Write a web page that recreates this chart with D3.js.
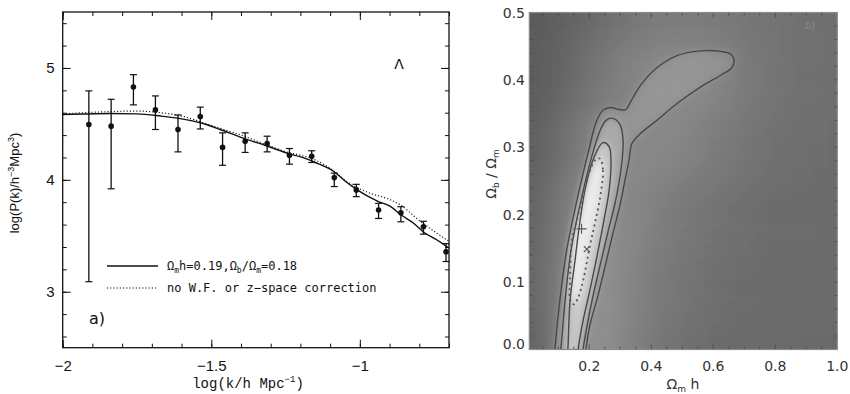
<!DOCTYPE html>
<html>
<head>
<meta charset="utf-8">
<script src="https://cdn.jsdelivr.net/npm/d3@7"></script>
<style>
  body { margin: 0; background: #fff; }
  svg { display: block; }
  .tick text { font-family: "Liberation Sans", Arial, sans-serif; }
</style>
</head>
<body>
<div id="chart"></div>
<script>
// ---- panel a: power spectrum ----
const logK = [-1.912, -1.837, -1.762, -1.688, -1.612, -1.537, -1.462, -1.386, -1.312,
              -1.237, -1.162, -1.086, -1.012, -0.937, -0.862, -0.786, -0.710];
const logP = [4.495, 4.48, 4.83, 4.625, 4.45, 4.566, 4.29, 4.345, 4.325,
              4.22, 4.21, 4.02, 3.91, 3.73, 3.705, 3.58, 3.357];
const errHi = [4.795, 4.72, 4.94, 4.75, 4.58, 4.65, 4.42, 4.42, 4.39,
               4.28, 4.26, 4.06, 3.96, 3.79, 3.76, 3.63, 3.43];
const errLo = [3.09, 3.92, 4.67, 4.45, 4.25, 4.455, 4.13, 4.245, 4.25,
               4.14, 4.155, 3.94, 3.85, 3.655, 3.625, 3.515, 3.27];

const modelSolid = [[-2.0, 4.584], [-1.84, 4.593], [-1.75, 4.59], [-1.67, 4.57], [-1.6, 4.545],
  [-1.537, 4.51], [-1.47, 4.45], [-1.40, 4.38], [-1.31, 4.30], [-1.234, 4.23], [-1.199, 4.205],
  [-1.15, 4.155], [-1.088, 4.075], [-1.05, 3.99], [-1.009, 3.91], [-0.941, 3.81],
  [-0.896, 3.76], [-0.863, 3.69], [-0.818, 3.61], [-0.784, 3.53], [-0.739, 3.46], [-0.70, 3.39]];
const modelDotted = [[-2.0, 4.59], [-1.84, 4.61], [-1.75, 4.615], [-1.672, 4.60], [-1.6, 4.57],
  [-1.537, 4.52], [-1.47, 4.46], [-1.40, 4.40], [-1.31, 4.31], [-1.234, 4.24], [-1.199, 4.22],
  [-1.149, 4.176], [-1.088, 4.08], [-1.042, 3.98], [-0.975, 3.89], [-0.896, 3.82],
  [-0.863, 3.775], [-0.806, 3.65], [-0.75, 3.54], [-0.70, 3.45]];

const xTicksA = [-2, -1.5, -1];
const yTicksA = [3, 4, 5];

// ---- panel b: likelihood in (Omega_m h, Omega_b/Omega_m) ----
const gridX = [0.0, 0.1, 0.2, 0.3, 0.4, 0.5, 0.6, 0.7, 0.8, 0.9, 1.0];
const gridY = [0.5, 0.4, 0.3, 0.2, 0.1, 0.0];
const greyLevels = [
  [0x58, 0x5e, 0x68, 0x72, 0x7a, 0x7c, 0x7a, 0x76, 0x72, 0x70, 0x6e],
  [0x5a, 0x62, 0x72, 0x80, 0x88, 0x8a, 0x86, 0x7a, 0x72, 0x70, 0x6e],
  [0x5c, 0x6a, 0x82, 0x88, 0x88, 0x84, 0x7c, 0x74, 0x70, 0x6e, 0x6c],
  [0x5e, 0x74, 0x8e, 0x8a, 0x80, 0x78, 0x72, 0x6e, 0x6c, 0x6c, 0x6a],
  [0x5e, 0x78, 0x94, 0x88, 0x7c, 0x74, 0x6e, 0x6c, 0x6a, 0x6a, 0x6a],
  [0x5c, 0x78, 0x96, 0x86, 0x78, 0x70, 0x6c, 0x6a, 0x6a, 0x6a, 0x68]
];

const contourOuter = [[0.086, -0.02], [0.089, 0], [0.105, 0.073], [0.127, 0.147], [0.160, 0.221],
  [0.198, 0.295], [0.222, 0.337], [0.244, 0.355], [0.270, 0.359], [0.296, 0.356], [0.318, 0.356],
  [0.335, 0.369], [0.367, 0.393], [0.418, 0.418], [0.483, 0.436], [0.557, 0.443], [0.628, 0.442],
  [0.657, 0.438], [0.667, 0.429], [0.660, 0.418], [0.628, 0.408], [0.557, 0.389], [0.483, 0.365],
  [0.418, 0.340], [0.364, 0.320], [0.338, 0.306], [0.328, 0.280], [0.315, 0.251], [0.299, 0.214],
  [0.276, 0.172], [0.254, 0.129], [0.228, 0.080], [0.202, 0.036], [0.189, 0], [0.186, -0.02]];
const contourMid = [[0.102, -0.02], [0.108, 0], [0.122, 0.073], [0.141, 0.147], [0.173, 0.221],
  [0.209, 0.288], [0.235, 0.325], [0.254, 0.340], [0.276, 0.343], [0.299, 0.334], [0.309, 0.310],
  [0.302, 0.266], [0.283, 0.217], [0.260, 0.174], [0.235, 0.125], [0.209, 0.073], [0.190, 0.028],
  [0.180, 0], [0.176, -0.02]];
const contourInner = [[0.128, -0.02], [0.131, 0], [0.138, 0.073], [0.154, 0.132], [0.170, 0.191],
  [0.189, 0.243], [0.215, 0.285], [0.244, 0.307], [0.264, 0.301], [0.270, 0.280], [0.264, 0.236],
  [0.247, 0.191], [0.225, 0.139], [0.202, 0.088], [0.180, 0.043], [0.164, 0], [0.160, -0.02]];
const contourDotted = [[0.235, 0.283], [0.244, 0.266], [0.235, 0.226], [0.218, 0.187], [0.202, 0.154],
  [0.180, 0.102], [0.164, 0.077], [0.151, 0.067], [0.138, 0.074], [0.138, 0.102], [0.144, 0.162],
  [0.164, 0.199], [0.183, 0.236], [0.205, 0.269], [0.221, 0.282]];

const bestFit = [0.175, 0.179];   // "+"
const otherFit = [0.192, 0.149];  // "x"

const xTicksB = [0.2, 0.4, 0.6, 0.8, 1.0];
const yTicksB = [0.0, 0.1, 0.2, 0.3, 0.4, 0.5];

const W = 850, H = 394;
const svg = d3.select("#chart").append("svg").attr("width", W).attr("height", H);
const defs = svg.append("defs");

// ================= panel a =================
const xA = d3.scaleLinear().domain([-2, -0.7]).range([62.7, 449]);
const yA = d3.scaleLinear().domain([2.5, 5.5]).range([347.7, 12]);

const gA = svg.append("g");

const minorX = d3.range(-2, -0.69, 0.1).map((v) => +v.toFixed(2));
const minorY = d3.range(2.6, 5.5, 0.2).map((v) => +v.toFixed(2));
const fmtA = (d) => (d < 0 ? "\u2212" : "") + Math.abs(d);

function tickAxis(axis, size, values) {
  return axis.tickValues(values).tickSize(size).tickFormat("");
}

// bottom
gA.append("g").attr("transform", `translate(0,${yA(2.5)})`)
  .call(tickAxis(d3.axisBottom(xA), -4, minorX));
gA.append("g").attr("transform", `translate(0,${yA(2.5)})`)
  .call(d3.axisBottom(xA).tickValues(xTicksA).tickSize(-8).tickPadding(13).tickFormat(fmtA));
// top
gA.append("g").attr("transform", `translate(0,${yA(5.5)})`)
  .call(tickAxis(d3.axisTop(xA), -4, minorX));
gA.append("g").attr("transform", `translate(0,${yA(5.5)})`)
  .call(tickAxis(d3.axisTop(xA), -8, xTicksA));
// left
gA.append("g").attr("transform", `translate(${xA(-2)},0)`)
  .call(tickAxis(d3.axisLeft(yA), -4, minorY));
gA.append("g").attr("transform", `translate(${xA(-2)},0)`)
  .call(d3.axisLeft(yA).tickValues(yTicksA).tickSize(-8).tickPadding(8).tickFormat(d3.format("d")));
// right
gA.append("g").attr("transform", `translate(${xA(-0.7)},0)`)
  .call(tickAxis(d3.axisRight(yA), -4, minorY));
gA.append("g").attr("transform", `translate(${xA(-0.7)},0)`)
  .call(tickAxis(d3.axisRight(yA), -8, yTicksA));

gA.selectAll(".domain").remove();
gA.selectAll(".tick line").attr("stroke", "#111").attr("stroke-width", 1);
gA.selectAll(".tick text").attr("font-size", 15).attr("fill", "#111");

gA.append("rect")
  .attr("x", xA(-2)).attr("y", yA(5.5))
  .attr("width", xA(-0.7) - xA(-2)).attr("height", yA(2.5) - yA(5.5))
  .attr("fill", "none").attr("stroke", "#111").attr("stroke-width", 1.3);

defs.append("clipPath").attr("id", "clipA").append("rect")
  .attr("x", xA(-2)).attr("y", yA(5.5))
  .attr("width", xA(-0.7) - xA(-2)).attr("height", yA(2.5) - yA(5.5));

const lineA = d3.line().x((d) => xA(d[0])).y((d) => yA(d[1])).curve(d3.curveMonotoneX);
const plotA = gA.append("g").attr("clip-path", "url(#clipA)");
plotA.append("path").attr("d", lineA(modelDotted))
  .attr("fill", "none").attr("stroke", "#222").attr("stroke-width", 1.2).attr("stroke-dasharray", "1.2,2");
plotA.append("path").attr("d", lineA(modelSolid))
  .attr("fill", "none").attr("stroke", "#111").attr("stroke-width", 1.4);

const pts = logK.map((k, i) => ({ k, p: logP[i], hi: errHi[i], lo: errLo[i] }));
const bars = gA.append("g").selectAll("g").data(pts).join("g");
bars.append("line")
  .attr("x1", (d) => xA(d.k)).attr("x2", (d) => xA(d.k))
  .attr("y1", (d) => yA(d.hi)).attr("y2", (d) => yA(d.lo))
  .attr("stroke", "#111").attr("stroke-width", 1.3);
bars.selectAll("line.cap").data((d) => [[d.k, d.hi], [d.k, d.lo]]).join("line")
  .attr("class", "cap")
  .attr("x1", (d) => xA(d[0]) - 3.5).attr("x2", (d) => xA(d[0]) + 3.5)
  .attr("y1", (d) => yA(d[1])).attr("y2", (d) => yA(d[1]))
  .attr("stroke", "#111").attr("stroke-width", 1.2);
bars.append("circle")
  .attr("cx", (d) => xA(d.k)).attr("cy", (d) => yA(d.p)).attr("r", 2.8).attr("fill", "#111");

// legend
const legA = gA.append("g").attr("font-family", "'DejaVu Sans Mono', monospace").attr("font-size", 12).attr("fill", "#111");
legA.append("line").attr("x1", 107).attr("x2", 158).attr("y1", 266).attr("y2", 266)
  .attr("stroke", "#111").attr("stroke-width", 1.3);
const t1 = legA.append("text").attr("x", 167).attr("y", 270);
t1.append("tspan").text("\u03a9");
t1.append("tspan").attr("font-size", 8).attr("dy", 3).text("m");
t1.append("tspan").attr("dy", -3).text("h=0.19,\u03a9");
t1.append("tspan").attr("font-size", 8).attr("dy", 3).text("b");
t1.append("tspan").attr("dy", -3).text("/\u03a9");
t1.append("tspan").attr("font-size", 8).attr("dy", 3).text("m");
t1.append("tspan").attr("dy", -3).text("=0.18");
legA.append("line").attr("x1", 107).attr("x2", 158).attr("y1", 288).attr("y2", 288)
  .attr("stroke", "#111").attr("stroke-width", 1.2).attr("stroke-dasharray", "1.2,2");
legA.append("text").attr("x", 167).attr("y", 292).text("no W.F. or z\u2212space correction");

gA.append("text").attr("x", 399).attr("y", 69).attr("text-anchor", "middle")
  .attr("font-family", "'DejaVu Sans', sans-serif").attr("font-size", 14).attr("fill", "#111").text("\u039b");
gA.append("text").attr("x", 97).attr("y", 324).attr("text-anchor", "middle")
  .attr("font-family", "'DejaVu Sans', sans-serif").attr("font-size", 16).attr("fill", "#111").text("a)");

// axis titles
const xTitleA = gA.append("text").attr("x", 248).attr("y", 388).attr("text-anchor", "middle")
  .attr("font-family", "'Liberation Mono', monospace").attr("font-size", 14).attr("fill", "#111");
xTitleA.append("tspan").text("log(k/h Mpc");
xTitleA.append("tspan").attr("font-size", 9).attr("dy", -6).text("\u22121");
xTitleA.append("tspan").attr("dy", 6).text(")");

const yTitleA = gA.append("text").attr("transform", "translate(19,183) rotate(-90)")
  .attr("text-anchor", "middle").attr("font-family", "'Liberation Sans', Arial, sans-serif")
  .attr("font-size", 13).attr("fill", "#111");
yTitleA.append("tspan").text("log(P(k)/h");
yTitleA.append("tspan").attr("font-size", 9).attr("dy", -5).text("\u22123");
yTitleA.append("tspan").attr("dy", 5).text("Mpc");
yTitleA.append("tspan").attr("font-size", 9).attr("dy", -5).text("3");
yTitleA.append("tspan").attr("dy", 5).text(")");

// ================= panel b =================
const xB = d3.scaleLinear().domain([0.0065, 1.0]).range([529.3, 837.3]);
const yB = d3.scaleLinear().domain([0, 0.5]).range([349.5, 12.5]);
const gB = svg.append("g");

defs.append("clipPath").attr("id", "clipB").append("rect")
  .attr("x", xB.range()[0]).attr("y", yB.range()[1])
  .attr("width", xB.range()[1] - xB.range()[0]).attr("height", yB.range()[0] - yB.range()[1]);

const blurBg = defs.append("filter").attr("id", "blurBg")
  .attr("x", "-20%").attr("y", "-20%").attr("width", "140%").attr("height", "140%");
blurBg.append("feGaussianBlur").attr("stdDeviation", 18);
const blurFg = defs.append("filter").attr("id", "blurFg")
  .attr("x", "-30%").attr("y", "-30%").attr("width", "160%").attr("height", "160%");
blurFg.append("feGaussianBlur").attr("stdDeviation", 4);

const plotB = gB.append("g").attr("clip-path", "url(#clipB)");
const cells = [];
greyLevels.forEach((row, r) => row.forEach((v, c) => cells.push({ x: gridX[c], y: gridY[r], v })));
const dx = xB(0.1) - xB(0), dy = yB(0) - yB(0.1);
const grey = (v) => d3.rgb(v, v, v);
plotB.append("g").attr("filter", "url(#blurBg)")
  .selectAll("rect").data(cells).join("rect")
  .attr("x", (d) => xB(d.x) - dx / 2 - (d.x === 0 ? 60 : 0))
  .attr("y", (d) => yB(d.y) - dy / 2 - (d.y === 0.5 ? 60 : 0))
  .attr("width", (d) => dx + (d.x === 0 || d.x === 1 ? 60 : 0))
  .attr("height", (d) => dy + (d.y === 0 || d.y === 0.5 ? 60 : 0))
  .attr("fill", (d) => grey(d.v));

const closed = d3.line().x((d) => xB(d[0])).y((d) => yB(d[1])).curve(d3.curveCatmullRomClosed.alpha(0.5));
const open = d3.line().x((d) => xB(d[0])).y((d) => yB(d[1])).curve(d3.curveCatmullRom.alpha(0.5));

const glow = plotB.append("g").attr("filter", "url(#blurFg)");
glow.append("path").attr("d", closed(contourOuter)).attr("fill", "#a4a4a4").attr("opacity", 0.45);
glow.append("path").attr("d", closed(contourMid)).attr("fill", "#b4b4b4").attr("opacity", 0.7);
glow.append("path").attr("d", closed(contourInner)).attr("fill", "#d0d0d0").attr("opacity", 0.85);
glow.append("path").attr("d", closed(contourDotted)).attr("fill", "#ececec");

[contourOuter, contourMid, contourInner].forEach((c) => {
  plotB.append("path").attr("d", open(c)).attr("fill", "none")
    .attr("stroke", "#484848").attr("stroke-width", 1.4);
});
plotB.append("path").attr("d", closed(contourDotted)).attr("fill", "none")
  .attr("stroke", "#555").attr("stroke-width", 1.8).attr("stroke-dasharray", "2,3.5");

// markers
const mk = plotB.append("g").attr("stroke", "#555").attr("stroke-width", 1.1);
mk.append("path").attr("d", `M${xB(bestFit[0]) - 5},${yB(bestFit[1])}h10M${xB(bestFit[0])},${yB(bestFit[1]) - 5}v10`);
mk.append("path").attr("d", `M${xB(otherFit[0]) - 3},${yB(otherFit[1]) - 3}l6,6M${xB(otherFit[0]) - 3},${yB(otherFit[1]) + 3}l6,-6`);

// ticks, frame
const tickG = gB.append("g").attr("stroke", "#444").attr("stroke-width", 0.8);
const xMinorB = d3.range(0.05, 1.0, 0.05);
const yMinorB = d3.range(0.02, 0.5, 0.02);
xMinorB.forEach((v) => {
  const len = xTicksB.some((t) => Math.abs(t - v) < 1e-6) ? 5 : 3;
  tickG.append("line").attr("x1", xB(v)).attr("x2", xB(v)).attr("y1", yB(0)).attr("y2", yB(0) - len);
  tickG.append("line").attr("x1", xB(v)).attr("x2", xB(v)).attr("y1", yB(0.5)).attr("y2", yB(0.5) + len);
});
yMinorB.forEach((v) => {
  tickG.append("line").attr("x1", xB.range()[0]).attr("x2", xB.range()[0] + 3).attr("y1", yB(v)).attr("y2", yB(v));
  tickG.append("line").attr("x1", xB.range()[1]).attr("x2", xB.range()[1] - 3).attr("y1", yB(v)).attr("y2", yB(v));
});
gB.append("rect")
  .attr("x", xB.range()[0]).attr("y", yB.range()[1])
  .attr("width", xB.range()[1] - xB.range()[0]).attr("height", yB.range()[0] - yB.range()[1])
  .attr("fill", "none").attr("stroke", "#8a8a8a").attr("stroke-width", 1.2);

const lblB = gB.append("g").attr("font-family", "'DejaVu Sans', sans-serif").attr("font-size", 14).attr("fill", "#333");
lblB.selectAll("text.xt").data(xTicksB).join("text").attr("class", "xt")
  .attr("x", (d) => xB(d)).attr("y", 371).attr("text-anchor", "middle").text(d3.format(".1f"));
lblB.selectAll("text.yt").data(yTicksB).join("text").attr("class", "yt")
  .attr("x", 525).attr("y", (d) => Math.min(yB(d), 344) + 5).attr("text-anchor", "end").text(d3.format(".1f"));

const xTitleB = lblB.append("text").attr("x", 683).attr("y", 389).attr("text-anchor", "middle");
xTitleB.append("tspan").text("\u03a9");
xTitleB.append("tspan").attr("font-size", 9).attr("dy", 3).text("m");
xTitleB.append("tspan").attr("dy", -3).text(" h");

const yTitleB = lblB.append("text").attr("transform", "translate(496,174) rotate(-90)").attr("text-anchor", "middle");
yTitleB.append("tspan").text("\u03a9");
yTitleB.append("tspan").attr("font-size", 9).attr("dy", 3).text("b");
yTitleB.append("tspan").attr("dy", -3).text(" / \u03a9");
yTitleB.append("tspan").attr("font-size", 9).attr("dy", 3).text("m");

gB.append("text").attr("x", 810).attr("y", 29).attr("text-anchor", "middle")
  .attr("font-family", "'DejaVu Sans', sans-serif").attr("font-size", 10).attr("fill", "#8a8a8a").text("b)");
</script>
</body>
</html>
